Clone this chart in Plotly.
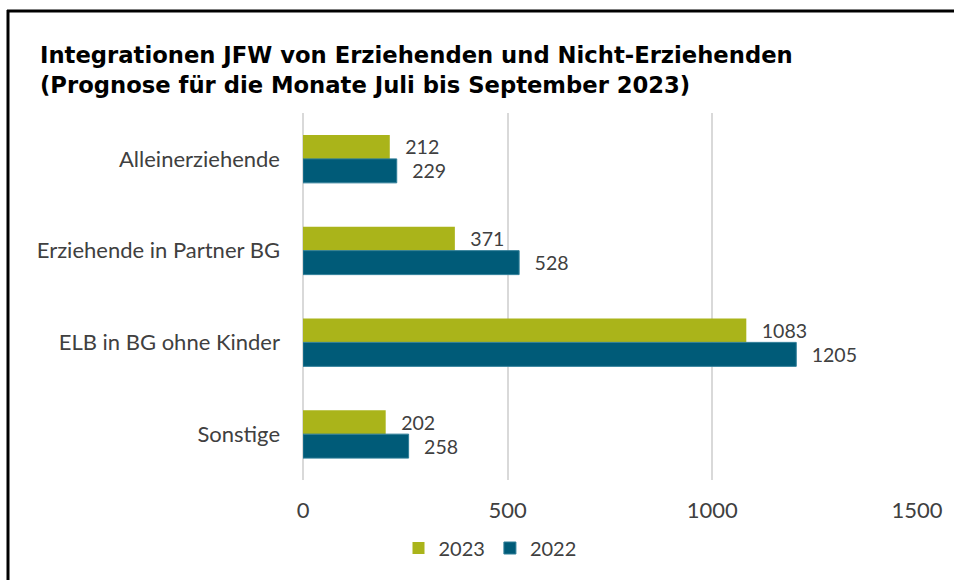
import plotly.graph_objects as go

categories = ["Alleinerziehende", "Erziehende in Partner BG", "ELB in BG ohne Kinder", "Sonstige"]
values_2023 = [212, 371, 1083, 202]
values_2022 = [229, 528, 1205, 258]
series_names = ["2023", "2022"]
x_ticks = [0, 500, 1000, 1500]

green = "#AAB41A"
blue = "#005B78"
txt = "#404040"
font_family = "Lato, Open Sans, sans-serif"
fs = 22
pad = "\u00a0\u00a0\u2009"

fig = go.Figure()
fig.add_trace(go.Bar(
    y=categories, x=values_2023, name=series_names[0], orientation="h",
    marker=dict(color=green, line=dict(width=0)),
    text=values_2023, texttemplate=pad + "%{x}", textposition="outside",
    textfont=dict(size=fs, color=txt, family=font_family), cliponaxis=False,
))
fig.add_trace(go.Bar(
    y=categories, x=values_2022, name=series_names[1], orientation="h",
    marker=dict(color=blue, line=dict(width=1, color="#2F7E98")),
    text=values_2022, texttemplate=pad + "%{x}", textposition="outside",
    textfont=dict(size=fs, color=txt, family=font_family), cliponaxis=False,
))

W, H = 954, 580
L, R, T, B = 303, 917, 113, 480
pw, ph = R - L, B - T

def px(x):
    return (x - L) / pw

def py(y):
    return (B - y) / ph

fig.update_layout(
    width=W, height=H,
    margin=dict(l=L, r=W - R, t=T, b=H - B),
    paper_bgcolor="white", plot_bgcolor="white",
    barmode="group", bargap=0.477, bargroupgap=0,
    title=dict(
        text="Integrationen JFW von Erziehenden und Nicht-Erziehenden<br>(Prognose für die Monate Juli bis September 2023)",
        x=40 / W, xanchor="left", xref="container",
        y=1 - 63 / H, yanchor="top", yref="container",
        font=dict(family="DejaVu Sans, sans-serif", size=22.7, color="black", weight="bold"),
    ),
    xaxis=dict(
        range=[0, 1500], tickvals=x_ticks, showgrid=True, gridcolor="#D9D9D9", gridwidth=2,
        zeroline=True, zerolinecolor="#D9D9D9", zerolinewidth=2, showline=False,
        tickfont=dict(size=fs, color=txt, family=font_family), ticklabelstandoff=15,
    ),
    yaxis=dict(
        autorange="reversed", showgrid=False, showline=False,
        tickfont=dict(size=fs, color=txt, family=font_family), ticklabelstandoff=22,
    ),
    legend=dict(
        orientation="h", x=px(490), xanchor="center", y=py(548), yanchor="middle",
        font=dict(size=20, color=txt, family=font_family), traceorder="normal",
        itemwidth=30,
    ),
    shapes=[
        dict(type="line", xref="paper", yref="paper", x0=px(8), x1=px(8), y0=py(10), y1=py(600),
             line=dict(color="black", width=3)),
        dict(type="line", xref="paper", yref="paper", x0=px(7), x1=px(970), y0=py(11), y1=py(11),
             line=dict(color="black", width=3)),
    ],
)

fig.write_html(
    "out.html",
    config={"displayModeBar": False},
    post_script="document.body.style.margin='0';document.body.style.overflow='hidden';",
)
